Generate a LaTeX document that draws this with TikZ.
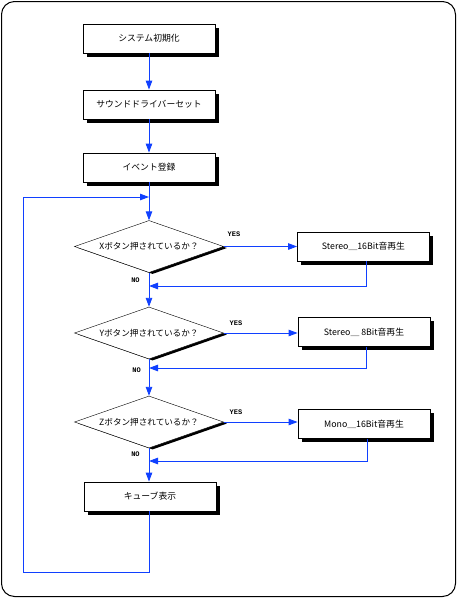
\documentclass[tikz,border=0pt]{standalone}
\usepackage{fontspec}
\usepackage{tikz}
\usetikzlibrary{shapes.geometric,shadows,arrows.meta}
\newfontfamily\jpfont{Noto Sans CJK JP}
\newfontfamily\yesnofont{Liberation Mono}
\definecolor{cFlow}{RGB}{16,64,255}

\begin{document}
\begin{tikzpicture}[x=1pt,y=-1pt,
  procbox/.style={draw,thick,fill=white,minimum width=132pt,minimum height=29pt,inner sep=0pt,
    font=\jpfont\fontsize{8.8pt}{10pt}\selectfont,
    drop shadow={shadow xshift=3.5pt,shadow yshift=-3.5pt,fill=black,opacity=1}},
  askbox/.style={diamond,aspect=2.9,draw,fill=white,minimum width=149pt,minimum height=52pt,inner sep=0pt,
    font=\jpfont\fontsize{8.6pt}{10pt}\selectfont,
    drop shadow={shadow xshift=3.5pt,shadow yshift=-1.5pt,fill=black,opacity=1}},
  flow/.style={cFlow,line width=0.9pt},
  goes/.style={flow,-{Triangle[length=9pt,width=6.5pt]}},
  yn/.style={font=\yesnofont\bfseries\fontsize{7pt}{8pt}\selectfont}]
\useasboundingbox (0,0) rectangle (457,598);
\draw[line width=1pt,rounded corners=13pt] (1.5,1.5) rectangle (455.5,596.5);
\node[procbox] (init) at (149,38.5) {システム初期化};
\node[procbox] (drv) at (149,104.5) {サウンドドライバーセット};
\node[procbox] (evt) at (149,167.5) {イベント登録};
\coordinate (join) at (149,197);
\node[askbox] (askX) at (149,246.5) {Xボタン押されているか？};
\node[procbox] (st16) at (363.5,246.5) {Stereo＿16Bit音再生};
\coordinate (backX) at (149,286);
\node[askbox] (askY) at (149,333) {Yボタン押されているか？};
\node[procbox] (st8) at (364,332) {Stereo＿ 8Bit音再生};
\coordinate (backY) at (149,368);
\node[askbox] (askZ) at (149,422) {Zボタン押されているか？};
\node[procbox] (mo16) at (364,424) {Mono＿16Bit音再生};
\coordinate (backZ) at (149,461);
\node[procbox] (cube) at (150,496.5) {キューブ表示};
\coordinate (loopA) at (149,572);
\coordinate (loopB) at (23,572);
\coordinate (loopC) at (23,197);
\draw[goes] (init) -- (drv);
\draw[goes] (drv) -- (evt);
\draw[flow] (evt) -- (join);
\draw[goes] (join) -- (askX.north);
\draw[goes] (askX.east) -- (st16);
\node[yn] (yesX) at (234,234) {YES};
\draw[goes] (st16.south -| 366,0) |- (backX);
\draw[flow] (askX.south) -- (backX);
\node[yn] (noX) at (135.5,280) {NO};
\draw[goes] (backX) -- (askY.north);
\draw[goes] (askY.east) -- (st8.west |- askY.east);
\node[yn] (yesY) at (236,323) {YES};
\draw[goes] (st8.south -| 366,0) |- (backY);
\draw[flow] (askY.south) -- (backY);
\node[yn] (noY) at (136.5,370) {NO};
\draw[goes] (backY) -- (askZ.north);
\draw[goes] (askZ.east) -- (mo16.west |- askZ.east);
\node[yn] (yesZ) at (236,412) {YES};
\draw[goes] (mo16.south -| 367,0) |- (backZ);
\draw[flow] (askZ.south) -- (backZ);
\node[yn] (noZ) at (135.5,454) {NO};
\draw[goes] (backZ) -- (cube.north -| backZ);
\draw[flow] (cube.south -| loopA) -- (loopA) -- (loopB) -- (loopC);
\draw[goes] (loopC) -- (join);
\end{tikzpicture}
\end{document}
